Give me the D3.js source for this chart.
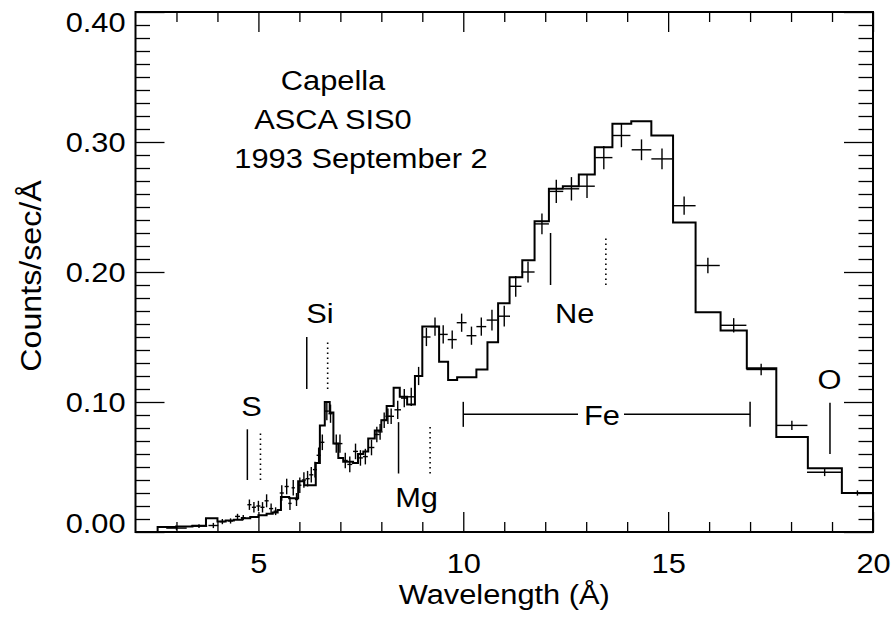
<!DOCTYPE html>
<html>
<head>
<meta charset="utf-8">
<script src="https://cdn.jsdelivr.net/npm/d3@7"></script>
<style>
  body { margin: 0; background: #fff; }
  text { font-family: "Liberation Sans", Arial, Helvetica, sans-serif; fill: #000; }
</style>
</head>
<body>
<svg id="chart" width="893" height="617"></svg>
<script>
// Model histogram: left bin edges (last entry is the right end) and values
const modelEdges = [2.0, 2.54, 2.99, 3.39, 3.72, 4.0, 4.2, 4.4, 4.6, 4.8, 5.0, 5.2, 5.35, 5.47, 5.55,
    5.75, 5.97, 6.12, 6.40, 6.50, 6.62, 6.74, 6.83, 6.95, 7.07, 7.31, 7.43, 7.56, 7.68, 7.84,
    8.0, 8.13, 8.30, 8.45, 8.63, 8.82, 9.0, 9.41, 9.63, 9.85, 10.32, 10.59, 10.85, 11.13, 11.44,
    11.74, 12.09, 12.43, 12.82, 13.21, 13.64, 14.10, 14.59, 15.12, 15.67, 16.28, 16.92, 17.64, 18.41, 19.24, 20.0];
const modelValues = [0, 0.0038, 0.0042, 0.0048, 0.0105, 0.008, 0.0088, 0.0095, 0.0105, 0.0115, 0.0128, 0.014, 0.015, 0.017, 0.027,
    0.026, 0.039, 0.036, 0.053, 0.082, 0.100, 0.092, 0.068, 0.057, 0.054, 0.053, 0.060, 0.062, 0.072, 0.078,
    0.086, 0.097, 0.111, 0.104, 0.098, 0.120, 0.158, 0.131, 0.117, 0.119, 0.125, 0.146, 0.176, 0.196, 0.209,
    0.239, 0.264, 0.266, 0.275, 0.296, 0.314, 0.316, 0.305, 0.238, 0.169, 0.155, 0.126, 0.073, 0.049, 0.030];

// Observed spectrum: bin centre, value, 1-sigma error, bin half width
const dataWave = [3.0, 3.55, 3.9, 4.12, 4.32, 4.49, 4.63, 4.78, 4.89, 5.00, 5.10, 5.20, 5.31, 5.42, 5.57,
    5.69, 5.77, 5.85, 5.93, 6.01, 6.11, 6.20, 6.29, 6.38, 6.47, 6.56, 6.67, 6.76, 6.90, 6.99,
    7.12, 7.23, 7.37, 7.49, 7.61, 7.76, 7.89, 7.97, 8.07, 8.16, 8.24, 8.40, 8.56, 8.73, 8.91,
    9.10, 9.31, 9.51, 9.73, 9.96, 10.20, 10.44, 10.70, 11.00, 11.28, 11.58, 11.92, 12.27, 12.64, 13.02,
    13.43, 13.86, 14.35, 14.85, 15.39, 15.97, 16.60, 17.27, 18.02, 18.82, 19.62];
const dataValue = [0.003, 0.0045, 0.005, 0.008, 0.0085, 0.012, 0.011, 0.021, 0.019, 0.020, 0.019, 0.024, 0.018, 0.016, 0.030,
    0.035, 0.022, 0.034, 0.025, 0.036, 0.040, 0.041, 0.044, 0.048, 0.059, 0.069, 0.093, 0.091, 0.068, 0.068,
    0.055, 0.052, 0.062, 0.057, 0.058, 0.065, 0.075, 0.077, 0.086, 0.089, 0.089, 0.094, 0.103, 0.104, 0.120,
    0.150, 0.158, 0.152, 0.148, 0.161, 0.151, 0.158, 0.163, 0.166, 0.189, 0.200, 0.237, 0.262, 0.264, 0.266,
    0.288, 0.305, 0.294, 0.287, 0.251, 0.205, 0.159, 0.125, 0.082, 0.046, 0.030];
const dataErr = [0.0015, 0.0015, 0.002, 0.002, 0.002, 0.002, 0.002, 0.004, 0.004, 0.004, 0.004, 0.005, 0.004, 0.003, 0.006,
    0.006, 0.005, 0.006, 0.005, 0.006, 0.006, 0.006, 0.006, 0.006, 0.006, 0.006, 0.007, 0.007, 0.007, 0.007,
    0.006, 0.006, 0.006, 0.006, 0.006, 0.006, 0.006, 0.006, 0.006, 0.006, 0.006, 0.007, 0.007, 0.007, 0.007,
    0.007, 0.007, 0.007, 0.007, 0.007, 0.007, 0.007, 0.008, 0.008, 0.008, 0.008, 0.008, 0.009, 0.009, 0.009,
    0.009, 0.009, 0.008, 0.008, 0.007, 0.006, 0.0055, 0.0045, 0.0035, 0.003, 0.002];
const dataHalfWidth = [0.25, 0.2, 0.12, 0.06, 0.06, 0.06, 0.06, 0.05, 0.05, 0.05, 0.05, 0.05, 0.05, 0.05, 0.05,
    0.05, 0.04, 0.04, 0.04, 0.04, 0.05, 0.05, 0.05, 0.05, 0.05, 0.05, 0.05, 0.05, 0.06, 0.06,
    0.06, 0.06, 0.06, 0.06, 0.06, 0.07, 0.07, 0.06, 0.07, 0.06, 0.07, 0.08, 0.08, 0.09, 0.09,
    0.1, 0.11, 0.11, 0.11, 0.12, 0.12, 0.12, 0.13, 0.14, 0.14, 0.16, 0.17, 0.17, 0.19, 0.19,
    0.21, 0.22, 0.24, 0.26, 0.28, 0.29, 0.31, 0.36, 0.38, 0.43, 0.38];

// Line identifications (H-like solid, He-like dotted)
const lineNames = ["S", "Si", "Mg", "Ne", "O"];
const lineSolid = [4.73, 6.18, 8.42, 12.13, 18.95];
const lineDotted = [5.05, 6.69, 9.19, 13.48, null];

// Fe L range
const feRange = [10, 17];

// Axis ticks
const xMajorTicks = [5, 10, 15, 20];
const yMajorTicks = [0, 0.1, 0.2, 0.3, 0.4];

const titleLines = ["Capella", "ASCA SIS0", "1993 September 2"];

// ---------------------------------------------------------------
const svg = d3.select("#chart");
const FONT = 28;
const STRETCH = "scale(1.1,1)"; // the original font runs a bit wider than Liberation Sans

const x = d3.scaleLinear().domain([2, 20]).range([135.5, 873]);
const y = d3.scaleLinear().domain([0, 0.4]).range([532, 12]);

const xMinorTicks = d3.range(3, 20).filter(function(d) { return d % 5 !== 0; });
const yMinorTicks = d3.range(1, 40).filter(function(d) { return d % 10 !== 0; }).map(function(d) { return d / 100; });

// put a text at (px, py) with the horizontal stretch
function addText(px, py, str, anchor) {
    return svg.append("text")
        .attr("transform", "translate(" + px + "," + py + ") " + STRETCH)
        .attr("text-anchor", anchor || "middle")
        .attr("font-size", FONT)
        .text(str);
}

function drawTicks(axis, transform) {
    const g = svg.append("g").attr("transform", transform).call(axis);
    g.select(".domain").remove();
    g.selectAll("line").attr("stroke", "#000").attr("stroke-width", 1.3);
    return g;
}

// bottom axis (with labels)
const bottom = drawTicks(d3.axisBottom(x).tickValues(xMajorTicks).tickSizeInner(-20).tickSizeOuter(0)
    .tickPadding(21).tickFormat(d3.format("d")), "translate(0,532)");
bottom.selectAll("text").attr("font-size", FONT).attr("font-family", null).attr("transform", STRETCH);
drawTicks(d3.axisBottom(x).tickValues(xMinorTicks).tickSize(-10).tickFormat(""), "translate(0,532)");

// top axis (ticks only)
drawTicks(d3.axisTop(x).tickValues(xMajorTicks).tickSize(-20).tickFormat(""), "translate(0,12)");
drawTicks(d3.axisTop(x).tickValues(xMinorTicks).tickSize(-10).tickFormat(""), "translate(0,12)");

// left axis (with labels)
const left = drawTicks(d3.axisLeft(y).tickValues(yMajorTicks).tickSizeInner(-29).tickSizeOuter(0)
    .tickPadding(9).tickFormat(d3.format(".2f")), "translate(135.5,0)");
left.selectAll("text")
    .attr("font-size", FONT).attr("font-family", null)
    .attr("transform", STRETCH)
    .attr("dy", function(d) { return d === 0 ? "0em" : (d === 0.4 ? "0.68em" : "0.34em"); });
drawTicks(d3.axisLeft(y).tickValues(yMinorTicks).tickSize(-14.5).tickFormat(""), "translate(135.5,0)");

// right axis (ticks only)
drawTicks(d3.axisRight(y).tickValues(yMajorTicks).tickSize(-29).tickFormat(""), "translate(873,0)");
drawTicks(d3.axisRight(y).tickValues(yMinorTicks).tickSize(-14.5).tickFormat(""), "translate(873,0)");

// frame
svg.append("rect")
    .attr("x", x(2)).attr("y", y(0.4))
    .attr("width", x(20) - x(2)).attr("height", y(0) - y(0.4))
    .attr("fill", "none").attr("stroke", "#000").attr("stroke-width", 2);

// axis titles
addText((x(2) + x(20)) / 2, 604, "Wavelength (Å)");
svg.append("text")
    .attr("transform", "translate(41,276) rotate(-90) scale(1.15,1.05)")
    .attr("text-anchor", "middle").attr("font-size", FONT)
    .text("Counts/sec/Å");

// model step histogram
const modelPoints = modelEdges.map(function(e, i) {
    return [e, i < modelValues.length ? modelValues[i] : modelValues[modelValues.length - 1]];
});
const stepLine = d3.line()
    .x(function(d) { return x(d[0]); })
    .y(function(d) { return y(d[1]); })
    .curve(d3.curveStepAfter);
svg.append("path")
    .datum(modelPoints)
    .attr("d", stepLine)
    .attr("fill", "none").attr("stroke", "#000").attr("stroke-width", 2);

// data crosses
const crosses = dataWave.map(function(w, i) {
    return { w: w, v: dataValue[i], e: dataErr[i], hw: dataHalfWidth[i] };
});
const crossG = svg.append("g").attr("stroke", "#000").attr("stroke-width", 1.4);
crossG.selectAll(".xbar")
    .data(crosses)
    .enter()
    .append("line")
    .attr("class", "xbar")
    .attr("x1", function(d) { return x(d.w - d.hw); })
    .attr("x2", function(d) { return x(d.w + d.hw); })
    .attr("y1", function(d) { return y(d.v); })
    .attr("y2", function(d) { return y(d.v); });
crossG.selectAll(".ybar")
    .data(crosses)
    .enter()
    .append("line")
    .attr("class", "ybar")
    .attr("x1", function(d) { return x(d.w); })
    .attr("x2", function(d) { return x(d.w); })
    .attr("y1", function(d) { return y(d.v - d.e); })
    .attr("y2", function(d) { return y(d.v + d.e); });

// line markers: [bottom, top] of each tick in counts units, and label anchor
const markerSpan = [[0.040, 0.079], [0.110, 0.150], [0.045, 0.0845], [0.190, 0.230], [0.060, 0.0995]];
const labelPos = [[4.83, 0.0895], [6.50, 0.1605], [8.86, 0.0195], [12.72, 0.1605], [18.94, 0.1103]];

const markers = lineNames.map(function(n, i) {
    return { name: n, solid: lineSolid[i], dotted: lineDotted[i], span: markerSpan[i], label: labelPos[i] };
});
const markG = svg.append("g");
markG.selectAll(".solid")
    .data(markers)
    .enter()
    .append("line")
    .attr("x1", function(d) { return x(d.solid); })
    .attr("x2", function(d) { return x(d.solid); })
    .attr("y1", function(d) { return y(d.span[0]); })
    .attr("y2", function(d) { return y(d.span[1]); })
    .attr("stroke", "#000").attr("stroke-width", 1.5);
markG.selectAll(".dotted")
    .data(markers.filter(function(d) { return d.dotted !== null; }))
    .enter()
    .append("line")
    .attr("x1", function(d) { return x(d.dotted); })
    .attr("x2", function(d) { return x(d.dotted); })
    .attr("y1", function(d) { return y(d.span[0]); })
    .attr("y2", function(d) { return y(d.span[1]) + 4; })
    .attr("stroke", "#000").attr("stroke-width", 1.6)
    .attr("stroke-dasharray", "1.5,3.5");
markers.forEach(function(d) {
    addText(x(d.label[0]), y(d.label[1]), d.name);
});

// Fe range bar with label in the gap
const feY = y(0.0905);
const feMid = 602;
const feG = svg.append("g").attr("stroke", "#000").attr("stroke-width", 1.5);
feG.append("line").attr("x1", x(feRange[0])).attr("x2", feMid - 24).attr("y1", feY).attr("y2", feY);
feG.append("line").attr("x1", feMid + 22).attr("x2", x(feRange[1])).attr("y1", feY).attr("y2", feY);
feG.selectAll(".cap")
    .data(feRange)
    .enter()
    .append("line")
    .attr("x1", function(d) { return x(d); })
    .attr("x2", function(d) { return x(d); })
    .attr("y1", feY - 12.5).attr("y2", feY + 12.5);
addText(feMid, feY + 11, "Fe");

// title block
const titleX = [333, 333, 361];
titleLines.forEach(function(t, i) {
    addText(titleX[i], 89.5 + i * 39, t);
});
</script>
</body>
</html>
